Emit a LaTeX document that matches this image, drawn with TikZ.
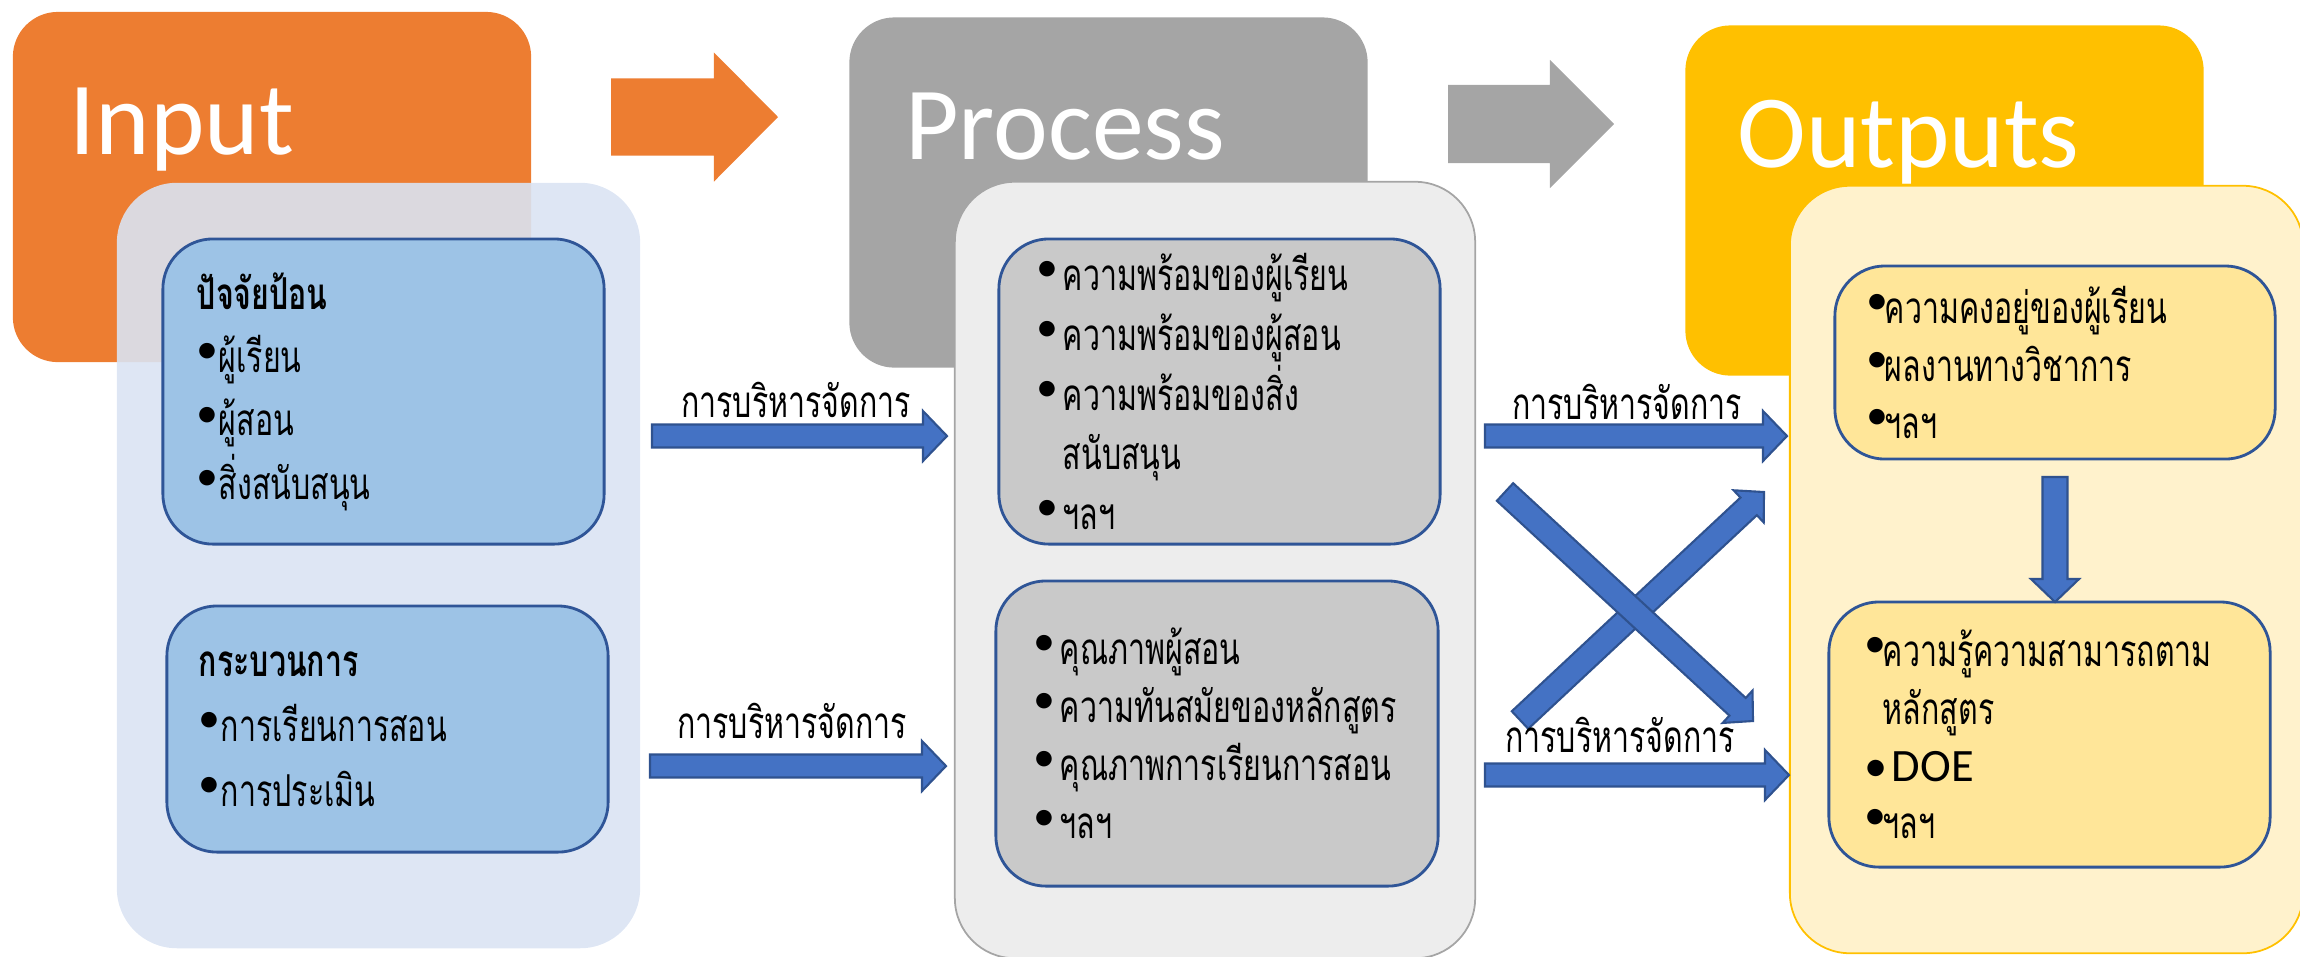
\documentclass[tikz,border=0pt]{standalone}
\usepackage{fontspec}
\setmainfont{Carlito}
\newfontfamily\thaifont[Script=Thai,FakeStretch=0.69]{Loma}
\usetikzlibrary{positioning}
\usetikzlibrary{calc}

\definecolor{inputorange}{HTML}{ED7D31}
\definecolor{procgray}{HTML}{A5A5A5}
\definecolor{outyellow}{HTML}{FFC000}
\definecolor{ingroupfill}{HTML}{DAE3F3}
\definecolor{procgroupfill}{HTML}{EDEDED}
\definecolor{outgroupfill}{HTML}{FFF2CC}
\definecolor{initem}{HTML}{9DC3E6}
\definecolor{procitem}{HTML}{C9C9C9}
\definecolor{outitem}{HTML}{FFE699}
\definecolor{itemedge}{HTML}{2F5597}
\definecolor{arrowblue}{HTML}{4472C4}
\definecolor{arrowedge}{HTML}{2F528F}

\newcommand\bul{\raisebox{0.2em}{\normalfont\textbullet}}
\newcommand\pbul{\makebox[0.26cm][l]{\bul}}
\newcommand\obul{\makebox[0.18cm][l]{\bul}}

% block arrow: [style]{from}{to}{body half width}{head half width}{head length}
\newcommand\blockarrow[6][]{%
    \path (#2) coordinate (ba-s) (#3) coordinate (ba-t);
    \coordinate (ba-h) at ($(ba-t)!#6!(ba-s)$);
    \path[#1] ($(ba-s)!#4!90:(ba-t)$) -- ($(ba-h)!#4!90:(ba-t)$)
        -- ($(ba-h)!#5!90:(ba-t)$) -- (ba-t) -- ($(ba-h)!#5!-90:(ba-t)$)
        -- ($(ba-h)!#4!-90:(ba-t)$) -- ($(ba-s)!#4!-90:(ba-t)$) -- cycle;}

\tikzset{
    headbox/.style={
        rounded corners=0.45cm,
        minimum width=5.18cm,
        minimum height=3.5cm,
        inner sep=0pt},
    headtext/.style={
        text=white,
        anchor=base west,
        inner sep=0pt,
        font=\fontsize{29.5}{30}\selectfont},
    groupbox/.style={
        rounded corners=0.6cm,
        inner sep=0pt},
    itembox/.style={
        rounded corners=0.5cm,
        draw=itemedge,
        line width=0.8pt,
        align=left,
        font=\thaifont\fontsize{12.5}{#1}\selectfont},
    lbl/.style={
        anchor=base,
        inner sep=0pt,
        font=\thaifont\fontsize{12.5}{14}\selectfont},
    bluearrow/.style={
        fill=arrowblue,
        draw=arrowedge,
        line width=0.6pt}}

\begin{document}
\begin{tikzpicture}[x=0.01cm,y=-0.01cm]
    \useasboundingbox (0,0) rectangle (2300,956);
    \node[headbox, fill=inputorange] (inhead) at (272,187) {};
    \node[headbox, fill=procgray] (prochead) at (1108.5,192.5) {};
    \node[headbox, fill=outyellow] (outhead) at (1944.5,200.5) {};
    \node[headtext] (intitle) at ($(inhead.north west)+(57,143)$) {Input};
    \node[headtext] (proctitle) at ($(prochead.north west)+(56,143)$) {Process};
    \node[headtext] (outtitle) at ($(outhead.north west)+(52,143)$) {Outputs};

    \node[groupbox, fill=ingroupfill, fill opacity=0.9,
        minimum width=5.23cm, minimum height=7.65cm] (ingroup) at (378.5,565.5) {};
    \node[groupbox, fill=procgroupfill, draw=procgray, line width=0.5pt,
        minimum width=5.2cm, minimum height=7.76cm] (procgroup) at (1215,570) {};
    \node[groupbox, fill=outgroupfill, draw=outyellow, line width=0.5pt,
        minimum width=5.13cm, minimum height=7.67cm] (outgroup) at (2046.5,569.5) {};

    \node[itembox=18pt, fill=initem, minimum height=3.05cm,
        text width=3.73cm, inner xsep=0.34cm] (in1) at (383.5,391.5)
        {{\bfseries ปัจจัยป้อน}\\\bul ผู้เรียน\\\bul ผู้สอน\\\bul สิ่งสนับสนุน};
    \node[itembox=18.5pt, fill=initem, minimum height=2.46cm,
        text width=3.77cm, inner xsep=0.32cm] (in2) at (387.5,729)
        {{\bfseries กระบวนการ}\\\bul การเรียนการสอน\\\bul การประเมิน};
    \node[itembox=17pt, fill=procitem, minimum height=3.05cm,
        text width=3.65cm, inner xsep=0.38cm] (pr1) at (1219.5,391.5)
        {\pbul ความพร้อมของผู้เรียน\\\pbul ความพร้อมของผู้สอน\\\pbul ความพร้อมของสิ่ง\\
         \hspace*{0.26cm}สนับสนุน\\\pbul ฯลฯ};
    \node[itembox=16.5pt, fill=procitem, minimum height=3.05cm,
        text width=3.66cm, inner xsep=0.38cm] (pr2) at (1217,733.5)
        {\pbul คุณภาพผู้สอน\\\pbul ความทันสมัยของหลักสูตร\\\pbul คุณภาพการเรียนการสอน\\\pbul ฯลฯ};
    \node[itembox=16.3pt, fill=outitem, minimum height=1.93cm,
        text width=3.76cm, inner xsep=0.32cm] (ou1) at (2055,362.5)
        {\obul ความคงอยู่ของผู้เรียน\\\obul ผลงานทางวิชาการ\\\obul ฯลฯ};
    \node[itembox=16.3pt, fill=outitem, minimum height=2.65cm,
        text width=3.69cm, inner xsep=0.36cm] (ou2) at (2049.5,734.5)
        {\obul ความรู้ความสามารถตาม\\\hspace*{0.18cm}หลักสูตร\\
         {\normalfont\fontsize{13.2}{16}\selectfont\makebox[0.27cm][l]{\textbullet}DOE}\\\obul ฯลฯ};

    \coordinate (ia-s) at (611,117);
    \coordinate (ia-t) at (778,117);
    \coordinate (pa-s) at (1448,124);
    \coordinate (pa-t) at (1614,124);
    \blockarrow[fill=inputorange]{ia-s}{ia-t}{0.385cm}{0.645cm}{0.64cm}
    \blockarrow[fill=procgray]{pa-s}{pa-t}{0.39cm}{0.64cm}{0.64cm}

    \coordinate (a1-s) at (652,436);
    \coordinate (a1-t) at (947,436);
    \coordinate (a2-s) at (650,766);
    \coordinate (a2-t) at (946,766);
    \coordinate (a3-s) at (1485,436);
    \coordinate (a3-t) at (1787,436);
    \coordinate (a4-s) at (1485,775);
    \coordinate (a4-t) at (1789,775);
    \coordinate (x1-s) at (1505,492);
    \coordinate (x1-t) at (1753,721);
    \coordinate (x2-s) at (1520,720);
    \coordinate (x2-t) at (1764,492);
    \coordinate (dn-s) at (2055,477);
    \coordinate (dn-t) at (2055,602);
    \blockarrow[bluearrow]{a1-s}{a1-t}{0.115cm}{0.25cm}{0.24cm}
    \blockarrow[bluearrow]{a2-s}{a2-t}{0.115cm}{0.25cm}{0.24cm}
    \blockarrow[bluearrow]{a3-s}{a3-t}{0.115cm}{0.25cm}{0.24cm}
    \blockarrow[bluearrow]{a4-s}{a4-t}{0.115cm}{0.25cm}{0.24cm}
    \blockarrow[bluearrow]{x2-s}{x2-t}{0.12cm}{0.22cm}{0.21cm}
    \blockarrow[bluearrow]{x1-s}{x1-t}{0.12cm}{0.22cm}{0.21cm}
    \blockarrow[bluearrow]{dn-s}{dn-t}{0.125cm}{0.24cm}{0.23cm}

    \node[lbl] (l1) at (796,417) {การบริหารจัดการ};
    \node[lbl] (l2) at (792,738) {การบริหารจัดการ};
    \node[lbl] (l3) at (1627,419) {การบริหารจัดการ};
    \node[lbl] (l4) at (1620,752) {การบริหารจัดการ};
\end{tikzpicture}
\end{document}
